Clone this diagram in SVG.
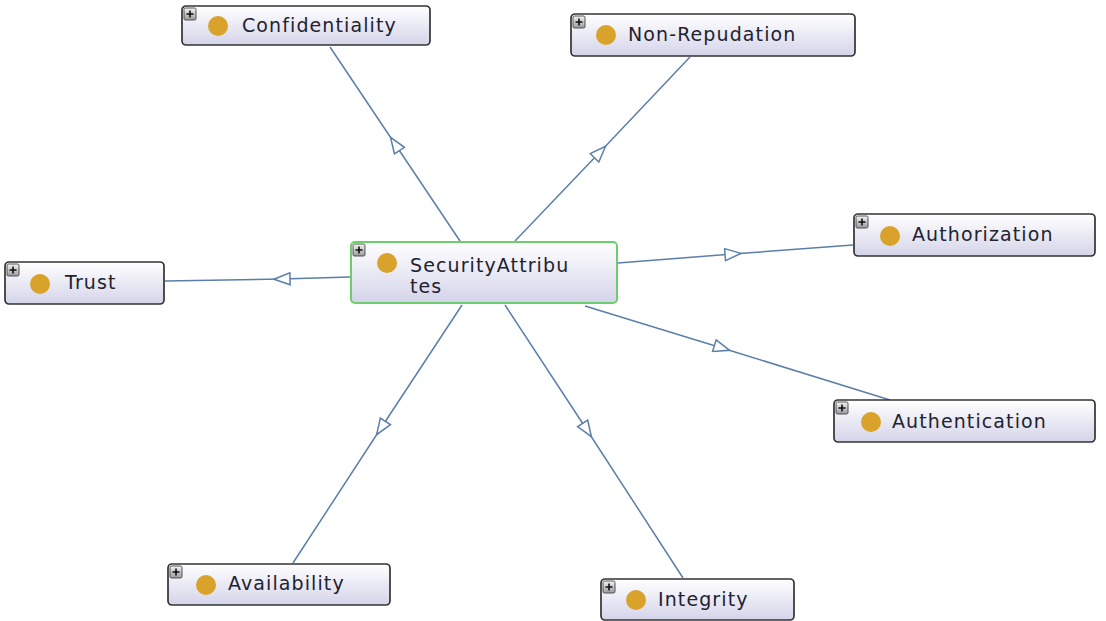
<svg xmlns="http://www.w3.org/2000/svg" width="1106" height="621" viewBox="0 0 1106 621">
  <defs>
    <linearGradient id="nodeFill" x1="0" y1="0" x2="0" y2="1">
      <stop offset="0" stop-color="#ffffff"/>
      <stop offset="1" stop-color="#d4d4ea"/>
    </linearGradient>
    <linearGradient id="plusFill" x1="0" y1="0" x2="0" y2="1">
      <stop offset="0" stop-color="#f4f4f4"/>
      <stop offset="1" stop-color="#9a9a9a"/>
    </linearGradient>
    <marker id="hollowTri" viewBox="0 0 18 14" refX="9" refY="7" markerWidth="18" markerHeight="14" markerUnits="userSpaceOnUse" orient="auto">
      <path d="M1,1 L17,7 L1,13 Z" fill="#ffffff" stroke="#5b7fa8" stroke-width="1.5"/>
    </marker>
    <g id="plusBox">
      <rect x="0" y="0" width="12" height="12" rx="1.5" fill="url(#plusFill)" stroke="#444" stroke-width="0.9"/>
      <path d="M2.5,6 H9.5 M6,2.5 V9.5" stroke="#111" stroke-width="1.6"/>
    </g>
  </defs>
  <style>
    .node { fill: url(#nodeFill); stroke: #333333; stroke-width: 1.7; }
    .root { fill: url(#nodeFill); stroke: #6ccf6c; stroke-width: 2; }
    .dot { fill: #d9a22a; }
    .label { font-family: "DejaVu Sans", sans-serif; font-size: 19px; fill: #222230; letter-spacing: 1.1px; }
    .edge { fill: none; stroke: #5b7fa8; stroke-width: 1.5; marker-mid: url(#hollowTri); }
  </style>

  <rect width="1106" height="621" fill="#ffffff"/>

  <!-- subclass links: each runs from the centre class outward, triangle at the middle -->
  <g id="connectors">
    <path class="edge" d="M460,241 L395,144 L330,47"/>
    <path class="edge" d="M515,241 L600,152 L690,57"/>
    <path class="edge" d="M618,263 L733,254 L853,245"/>
    <path class="edge" d="M350,277 L282,279 L165,281"/>
    <path class="edge" d="M585,306 L722,348 L890,400"/>
    <path class="edge" d="M462,305 L381,428 L293,563"/>
    <path class="edge" d="M505,305 L587,430 L683,578"/>
  </g>

  <g id="node-confidentiality">
    <rect class="node" x="182" y="6" width="248" height="39" rx="4"/>
    <use href="#plusBox" x="184" y="8"/>
    <circle class="dot" cx="218" cy="26" r="10"/>
    <text class="label" x="242" y="32">Confidentiality</text>
  </g>

  <g id="node-nonrepudation">
    <rect class="node" x="571" y="14" width="284" height="42" rx="4"/>
    <use href="#plusBox" x="573" y="16"/>
    <circle class="dot" cx="606" cy="35" r="10"/>
    <text class="label" x="628" y="41">Non-Repudation</text>
  </g>

  <g id="node-authorization">
    <rect class="node" x="854" y="214" width="241" height="42" rx="4"/>
    <use href="#plusBox" x="856" y="216"/>
    <circle class="dot" cx="890" cy="236" r="10"/>
    <text class="label" x="912" y="241">Authorization</text>
  </g>

  <g id="node-trust">
    <rect class="node" x="5" y="262" width="159" height="42" rx="4"/>
    <use href="#plusBox" x="7" y="264"/>
    <circle class="dot" cx="40" cy="284" r="10"/>
    <text class="label" x="65" y="289">Trust</text>
  </g>

  <g id="node-securityattributes">
    <rect class="root" x="351" y="242" width="266" height="61" rx="4"/>
    <use href="#plusBox" x="353" y="244"/>
    <circle class="dot" cx="387" cy="263" r="10"/>
    <text class="label" x="410" y="272">SecurityAttribu</text>
    <text class="label" x="410" y="293">tes</text>
  </g>

  <g id="node-authentication">
    <rect class="node" x="834" y="400" width="261" height="42" rx="4"/>
    <use href="#plusBox" x="836" y="402"/>
    <circle class="dot" cx="871" cy="422" r="10"/>
    <text class="label" x="892" y="428">Authentication</text>
  </g>

  <g id="node-availability">
    <rect class="node" x="168" y="564" width="222" height="41" rx="4"/>
    <use href="#plusBox" x="170" y="566"/>
    <circle class="dot" cx="206" cy="585" r="10"/>
    <text class="label" x="228" y="590">Availability</text>
  </g>

  <g id="node-integrity">
    <rect class="node" x="601" y="579" width="193" height="41" rx="4"/>
    <use href="#plusBox" x="603" y="581"/>
    <circle class="dot" cx="636" cy="600" r="10"/>
    <text class="label" x="658" y="606">Integrity</text>
  </g>
</svg>
